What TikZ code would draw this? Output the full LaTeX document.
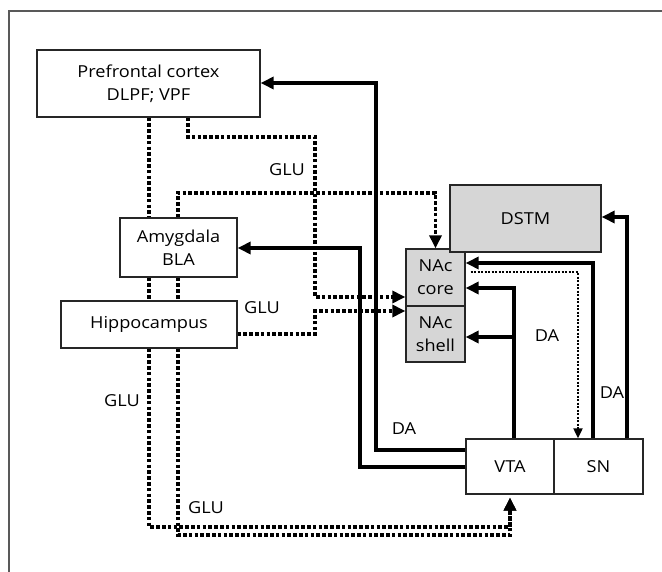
\documentclass[tikz,border=0pt]{standalone}
\usepackage{fontspec}
\setmainfont{Open Sans}[FakeStretch=1.1]
\usetikzlibrary{arrows.meta}
\begin{document}
\begin{tikzpicture}[x=1pt,y=-1pt,
  box/.style={draw=black!85, line width=1.3pt, inner sep=0pt, align=center,
    font=\fontsize{16.5}{23}\selectfont},
  graybox/.style={box, fill=black!16},
  lbl/.style={font=\fontsize{16.5}{20}\selectfont, inner sep=0pt},
  da/.style={line width=4pt, line join=miter},
  daarrow/.style={da, -{Triangle[length=13pt,width=12pt]}},
  glu/.style={line width=3.6pt, dash pattern=on 3.6pt off 2.2pt},
  gluarrow/.style={glu, -{Triangle[length=13pt,width=12pt]}},
  fine/.style={line width=2pt, dash pattern=on 2pt off 1.5pt,
    -{Triangle[length=10pt,width=9pt]}}
]
\useasboundingbox (0,0) rectangle (662,572);
\draw[black!65, line width=2pt] (9,572) -- (9,11) -- (662,11);

% boxes
\node[box, minimum width=223pt, minimum height=67pt] (pfc) at (148.5,83.5) {Prefrontal cortex\\DLPF; VPF};
\node[box, minimum width=117pt, minimum height=59pt] (amy) at (178.5,247.5) {Amygdala\\BLA};
\node[box, minimum width=176pt, minimum height=47pt] (hip) at (149,324.5) {Hippocampus};
\node[graybox, minimum width=59pt, minimum height=57pt] (core) at (435.5,277.5) {NAc\\core};
\node[graybox, minimum width=59pt, minimum height=56pt] (shell) at (435.5,334) {NAc\\shell};
\node[graybox, minimum width=151pt, minimum height=67pt] (dstm) at (525.5,218.5) {DSTM};
\node[box, minimum width=88pt, minimum height=55pt] (vta) at (510,466.5) {VTA};
\node[box, minimum width=89pt, minimum height=55pt] (sn) at (598.5,466.5) {SN};

% DA (solid) pathways
\draw[daarrow] (vta.west |- 0,450) -| (376,83) -- (pfc.east |- 0,83);
\draw[daarrow] (vta.west |- 0,467) -| (360,248) -- (amy.east |- 0,248);
\draw[daarrow] (514,0 |- vta.north) -- (514,288) -- (core.east |- 0,288);
\draw[daarrow] (514,337) -- (shell.east |- 0,337);
\draw[daarrow] (593,0 |- sn.north) -- (593,263) -- (core.east |- 0,263);
\draw[daarrow] (627,0 |- sn.north) -- (627,217) -- (dstm.east |- 0,217);

% fine dotted NAc core -> SN
\draw[fine, shorten <=5pt] (core.east |- 0,272) -| (578,0 |- sn.north);

% GLU (dotted) pathways
\draw[glu] (149,0 |- pfc.south) -- (149,0 |- amy.north);
\draw[glu] (149,0 |- amy.south) -- (149,0 |- hip.north);
\draw[glu] (178,0 |- amy.south) -- (178,0 |- hip.north);
\draw[gluarrow] (178,0 |- amy.north) -- (178,193) -| (core.north);
\draw[gluarrow] (188,0 |- pfc.south) -- (188,137) -| (315,297) -- (core.west |- 0,297);
\draw[gluarrow] (hip.east |- 0,334) -| (315,311) -- (shell.west |- 0,311);
\draw[gluarrow, shorten >=3pt] (149,0 |- hip.south) -- (149,527) -| (vta.south);
\draw[gluarrow, shorten >=3pt] (178,0 |- hip.south) -- (178,535) -| (vta.south);

% labels
\node[lbl] (g1) at (287,170) {GLU};
\node[lbl] (g2) at (262,308) {GLU};
\node[lbl] (g3) at (122,401) {GLU};
\node[lbl] (g4) at (206,508) {GLU};
\node[lbl] (d1) at (547,336) {DA};
\node[lbl] (d2) at (612,393) {DA};
\node[lbl] (d3) at (404,429) {DA};
\end{tikzpicture}
\end{document}
